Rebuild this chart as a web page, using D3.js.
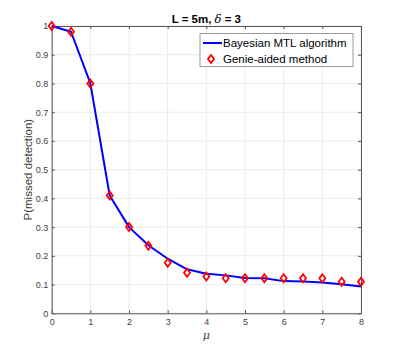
<!DOCTYPE html>
<html>
<head>
<meta charset="utf-8">
<script src="https://d3js.org/d3.v7.min.js"></script>
<style>
  body { margin: 0; background: #fff; }
  text { font-family: "Liberation Sans", Arial, sans-serif; }
</style>
</head>
<body>
<div id="cont"></div>
<script>
// data
var muLine = [0, 0.5, 1, 1.5, 2, 2.5, 3, 3.5, 4, 4.5, 5, 5.5, 6, 6.5, 7, 7.5, 8];
var pBayes = [1.0, 0.98, 0.80, 0.41, 0.30, 0.237, 0.19, 0.153, 0.138, 0.132, 0.123, 0.122, 0.112, 0.111, 0.107, 0.101, 0.093];
var muGenie = [0, 0.5, 1, 1.5, 2, 2.5, 3, 3.5, 4, 4.5, 5, 5.5, 6, 6.5, 7, 7.5, 8];
var pGenie = [1.0, 0.98, 0.80, 0.41, 0.30, 0.235, 0.176, 0.141, 0.128, 0.122, 0.122, 0.122, 0.122, 0.122, 0.122, 0.11, 0.11];
var xTicks = [0, 1, 2, 3, 4, 5, 6, 7, 8];
var yTicks = [0, 0.1, 0.2, 0.3, 0.4, 0.5, 0.6, 0.7, 0.8, 0.9, 1];
var legendLabels = ["Bayesian MTL algorithm", "Genie-aided method"];

var W = 399, H = 352;
var pLeft = 51.7, pRight = 361, pTop = 26, pBottom = 313.3;

var svg = d3.select("#cont").append("svg")
    .attr("width", W)
    .attr("height", H);

var x = d3.scaleLinear().domain([0, 8]).range([pLeft, pRight]);
var y = d3.scaleLinear().domain([0, 1]).range([pBottom, pTop]);

// grid
svg.append("g").selectAll("line").data(xTicks).enter().append("line")
    .attr("x1", function(d) { return x(d); }).attr("x2", function(d) { return x(d); })
    .attr("y1", pTop).attr("y2", pBottom)
    .attr("stroke", "#ebebeb").attr("stroke-width", 1);
svg.append("g").selectAll("line").data(yTicks).enter().append("line")
    .attr("y1", function(d) { return y(d); }).attr("y2", function(d) { return y(d); })
    .attr("x1", pLeft).attr("x2", pRight)
    .attr("stroke", "#ebebeb").attr("stroke-width", 1);

// axes with inward ticks
var axisColor = "#555";
var fmt = function(d) { return d3.format("")(d); };

var xb = svg.append("g").attr("transform", "translate(0," + pBottom + ")")
    .call(d3.axisBottom(x).tickValues(xTicks).tickSizeInner(-3).tickSizeOuter(0).tickPadding(5.5).tickFormat(fmt));
var xt = svg.append("g").attr("transform", "translate(0," + pTop + ")")
    .call(d3.axisTop(x).tickValues(xTicks).tickSizeInner(-3).tickSizeOuter(0).tickFormat(""));
var yl = svg.append("g").attr("transform", "translate(" + pLeft + ",0)")
    .call(d3.axisLeft(y).tickValues(yTicks).tickSizeInner(-3).tickSizeOuter(0).tickPadding(3.5).tickFormat(fmt));
var yr = svg.append("g").attr("transform", "translate(" + pRight + ",0)")
    .call(d3.axisRight(y).tickValues(yTicks).tickSizeInner(-3).tickSizeOuter(0).tickFormat(""));

[xb, xt, yl, yr].forEach(function(g) {
    g.select(".domain").attr("stroke", axisColor).attr("stroke-width", 1);
    g.selectAll(".tick line").attr("stroke", axisColor);
    g.selectAll(".tick text").attr("fill", "#404040").style("font-size", "9px")
        .style("font-family", "'Liberation Sans', Arial, sans-serif");
});

// blue line
var lineData = muLine.map(function(m, i) { return [m, pBayes[i]]; });
svg.append("path")
    .datum(lineData)
    .attr("fill", "none")
    .attr("stroke", "#0000ff")
    .attr("stroke-width", 2)
    .attr("stroke-linejoin", "round")
    .attr("d", d3.line().x(function(d) { return x(d[0]); }).y(function(d) { return y(d[1]); }));

// red diamonds
var diamond = function(cx, cy) {
    var a = 3, b = 4;
    return "M" + cx + "," + (cy - b) + "L" + (cx + a) + "," + cy + "L" + cx + "," + (cy + b) + "L" + (cx - a) + "," + cy + "Z";
};
svg.append("g").selectAll("path").data(muGenie).enter().append("path")
    .attr("d", function(d, i) { return diamond(x(d), y(pGenie[i])); })
    .attr("fill", "none")
    .attr("stroke", "#ff0000")
    .attr("stroke-width", 1.8);

// title
var title = svg.append("text")
    .attr("x", (pLeft + pRight) / 2)
    .attr("y", 22.5)
    .attr("text-anchor", "middle")
    .style("font-size", "11.5px")
    .style("font-weight", "bold")
    .attr("fill", "#000");
title.append("tspan").text("L = 5m, ");
title.append("tspan").style("font-style", "italic").style("font-weight", "normal").style("font-family", "'DejaVu Serif', serif").text("δ");
title.append("tspan").text(" = 3");

// axis labels
svg.append("text")
    .attr("x", (pLeft + pRight) / 2)
    .attr("y", 339)
    .attr("text-anchor", "middle")
    .style("font-size", "11px")
    .style("font-style", "italic")
    .style("font-family", "'DejaVu Serif', serif")
    .attr("fill", "#404040")
    .text("μ");

svg.append("text")
    .attr("transform", "translate(31.5," + ((pTop + pBottom) / 2) + ") rotate(-90)")
    .attr("text-anchor", "middle")
    .style("font-size", "11.5px")
    .attr("fill", "#404040")
    .text("P(missed detection)");

// legend
var lg = svg.append("g").attr("transform", "translate(200,33.5)");
lg.append("rect")
    .attr("width", 153).attr("height", 33)
    .attr("fill", "#fff")
    .attr("stroke", "#999").attr("stroke-width", 1);
lg.append("line")
    .attr("x1", 3).attr("x2", 22).attr("y1", 9.5).attr("y2", 9.5)
    .attr("stroke", "#0000ff").attr("stroke-width", 2);
lg.append("path")
    .attr("d", diamond(11, 25.5))
    .attr("fill", "none").attr("stroke", "#ff0000").attr("stroke-width", 1.8);
lg.selectAll("text").data(legendLabels).enter().append("text")
    .attr("x", 23)
    .attr("y", function(d, i) { return 13.5 + i * 16; })
    .style("font-size", "11.5px")
    .attr("fill", "#000")
    .text(function(d) { return d; });
</script>
</body>
</html>
